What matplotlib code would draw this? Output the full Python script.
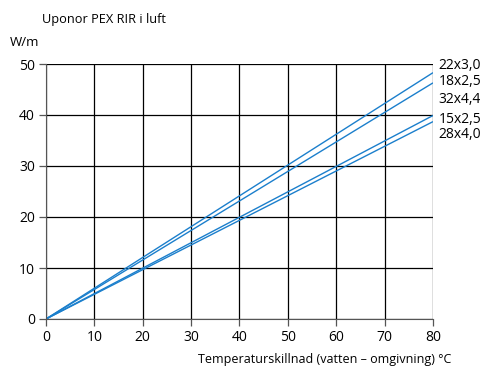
import matplotlib.pyplot as plt

plt.rcParams['font.family'] = ['Open Sans', 'DejaVu Sans']

# data
temp = [0, 80]
series = {
    '22x3,0': [0, 48.3],
    '18x2,5': [0, 46.3],
    '15x2,5': [0, 39.9],
    '28x4,0': [0, 38.7],
}
labels = ['22x3,0', '18x2,5', '32x4,4', '15x2,5', '28x4,0']
label_y = [49.8, 46.5, 43.1, 39.2, 36.1]
xticks = [0, 10, 20, 30, 40, 50, 60, 70, 80]
yticks = [0, 10, 20, 30, 40, 50]

fig = plt.figure(figsize=(4.81, 3.68), dpi=100)
ax = fig.add_axes([46 / 481, 1 - 319 / 368, 387 / 481, 255 / 368])

for name, vals in series.items():
    ax.plot(temp, vals, color='#1b7fcc', lw=1.0, solid_capstyle='butt')

ax.set_xlim(0, 80)
ax.set_ylim(0, 50)
ax.set_xticks(xticks)
ax.set_yticks(yticks)
ax.grid(True, color='black', lw=0.9)
ax.set_axisbelow(True)
for s in ['top', 'right']:
    ax.spines[s].set_visible(False)
for s in ['left', 'bottom']:
    ax.spines[s].set_color('#555555')
ax.tick_params(length=5, width=0.9, color='#555555', labelsize=10, pad=3)

for lab, y in zip(labels, label_y):
    ax.text(81.2, y, lab, fontsize=10, va='center', ha='left', clip_on=False)

fig.text(42 / 481, 1 - 20 / 368, 'Uponor PEX RIR i luft', fontsize=9.2, va='center')
fig.text(10 / 481, 1 - 42 / 368, 'W/m', fontsize=9.5, va='center')
fig.text(198 / 481, 1 - 360 / 368, 'Temperaturskillnad (vatten – omgivning) °C',
         fontsize=9, va='center')

fig.savefig('out.png', dpi=100)
